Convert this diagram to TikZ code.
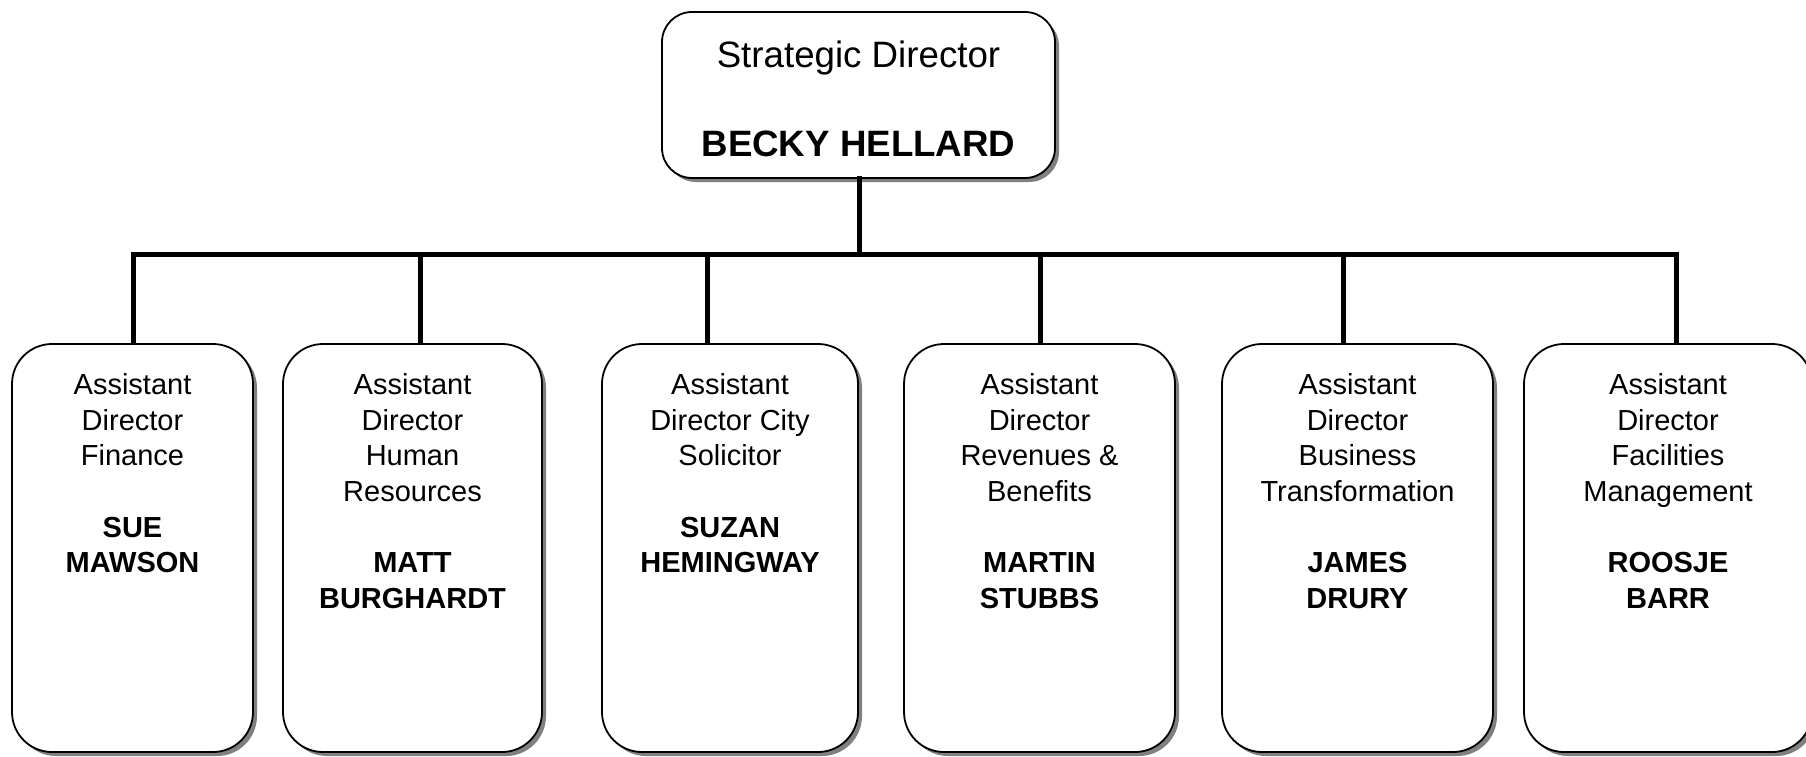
\documentclass[tikz,border=0pt]{standalone}
\usepackage{fontspec}
\setmainfont{Liberation Sans}
\usetikzlibrary{shadows}
\tikzset{
  orgbox/.style={draw=black, line width=1.8pt, fill=white, rounded corners=40pt,
    inner sep=0pt, minimum height=408pt,
    drop shadow={shadow xshift=4pt, shadow yshift=-4pt, fill=black!50, opacity=1}},
  topbox/.style={draw=black, line width=1.8pt, fill=white, rounded corners=30pt,
    inner sep=0pt, minimum width=393pt, minimum height=166pt,
    drop shadow={shadow xshift=4pt, shadow yshift=-4pt, fill=black!50, opacity=1}},
  orgtext/.style={anchor=north, align=center, inner sep=0pt,
    font=\fontsize{29pt}{35.7pt}\selectfont},
  toptext/.style={anchor=base, inner sep=0pt, font=\fontsize{36.7pt}{44pt}\selectfont},
  link/.style={line width=5pt, line join=miter, line cap=rect}
}
\begin{document}
\begin{tikzpicture}[x=1pt, y=-1pt]
\useasboundingbox[fill=white] (0,0) rectangle (1806,756);

% top box
\node[topbox] (top) at (858.5,95) {};
\node[toptext] (toptitle) at (858.5,67) {Strategic Director};
\node[toptext] (topname) at (858.5,156) {\textbf{BECKY HELLARD}};

% bottom boxes
\node[orgbox, minimum width=241pt] (b1) at (132.5,548) {};
\node[orgbox, minimum width=259pt] (b2) at (412.5,548) {};
\node[orgbox, minimum width=256pt] (b3) at (730,548) {};
\node[orgbox, minimum width=271pt] (b4) at (1039.5,548) {};
\node[orgbox, minimum width=271pt] (b5) at (1357.5,548) {};
\node[orgbox, minimum width=288pt] (b6) at (1668,548) {};

\node[orgtext] (t1) at (132.5,373.2) {Assistant\\Director\\Finance\\[35.7pt]\textbf{SUE}\\\textbf{MAWSON}};
\node[orgtext] (t2) at (412.5,373.2) {Assistant\\Director\\Human\\Resources\\[35.7pt]\textbf{MATT}\\\textbf{BURGHARDT}};
\node[orgtext] (t3) at (730,373.2) {Assistant\\Director City\\Solicitor\\[35.7pt]\textbf{SUZAN}\\\textbf{HEMINGWAY}};
\node[orgtext] (t4) at (1039.5,373.2) {Assistant\\Director\\Revenues \&\\Benefits\\[35.7pt]\textbf{MARTIN}\\\textbf{STUBBS}};
\node[orgtext] (t5) at (1357.5,373.2) {Assistant\\Director\\Business\\Transformation\\[35.7pt]\textbf{JAMES}\\\textbf{DRURY}};
\node[orgtext] (t6) at (1668,373.2) {Assistant\\Director\\Facilities\\Management\\[35.7pt]\textbf{ROOSJE}\\\textbf{BARR}};

% junctions on the bar
\coordinate (jt) at (859,254.5);
\coordinate (j1) at (133,254.5);
\coordinate (j2) at (420,254.5);
\coordinate (j3) at (707.5,254.5);
\coordinate (j4) at (1040,254.5);
\coordinate (j5) at (1343,254.5);
\coordinate (j6) at (1676,254.5);

\draw[link] (jt |- top.south) -- (jt);
\draw[link, line cap=butt] (j1 |- b1.north) -- (j1) -- (j6) -- (j6 |- b6.north);
\draw[link, line cap=butt] (j2) -- (j2 |- b2.north);
\draw[link, line cap=butt] (j3) -- (j3 |- b3.north);
\draw[link, line cap=butt] (j4) -- (j4 |- b4.north);
\draw[link, line cap=butt] (j5) -- (j5 |- b5.north);
\end{tikzpicture}
\end{document}
